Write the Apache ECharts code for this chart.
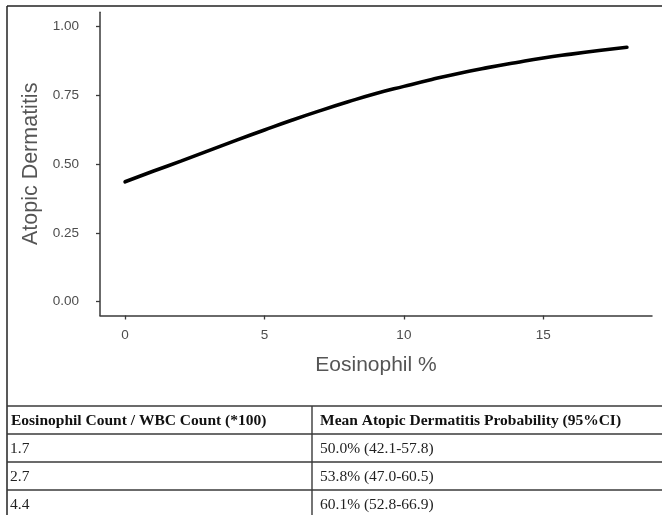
<!DOCTYPE html>
<html>
<head>
<meta charset="utf-8">
<script src="https://cdn.jsdelivr.net/npm/echarts@6/dist/echarts.min.js"></script>
<style>
  html, body { margin: 0; padding: 0; background: #fff; }
  #chart { width: 662px; height: 515px; }
</style>
</head>
<body>
<div id="chart"></div>
<script>
// ---- data ----
const eosinophilPct = [0, 1, 2, 3, 4, 5, 6, 7, 8, 9, 10, 11, 12, 13, 14, 15, 16, 17, 18];
const atopicProb = [0.435, 0.473, 0.510, 0.548, 0.586, 0.623, 0.659, 0.693, 0.725, 0.755,
                    0.781, 0.806, 0.829, 0.849, 0.867, 0.884, 0.898, 0.911, 0.923];
const xTicks = [0, 5, 10, 15];
const yTicks = [0, 0.25, 0.5, 0.75, 1];
const xTitle = 'Eosinophil %';
const yTitle = 'Atopic Dermatitis';
const tableHeader = ['Eosinophil Count / WBC Count (*100)', 'Mean Atopic Dermatitis Probability (95%CI)'];
const tableCol1 = ['1.7', '2.7', '4.4'];
const tableCol2 = ['50.0% (42.1-57.8)', '53.8% (47.0-60.5)', '60.1% (52.8-66.9)'];

// ---- layout ----
const W = 662, H = 515;
const lineColor = '#3a3a3a';
const tableTop = 406, rowH = 28, colX = 312, leftX = 7, topY = 6;
const serif = '"Liberation Serif", "Times New Roman", serif';
const sans = '"Liberation Sans", Arial, sans-serif';

const graphics = [];
// outer frame (left and top)
graphics.push({ type: 'line', shape: { x1: leftX, y1: topY, x2: leftX, y2: H }, style: { stroke: '#222', lineWidth: 1.5 } });
graphics.push({ type: 'line', shape: { x1: leftX, y1: topY, x2: W, y2: topY }, style: { stroke: '#222', lineWidth: 1.5 } });
// table horizontal rules
for (let i = 0; i <= tableCol1.length; i++) {
  const y = tableTop + i * rowH;
  graphics.push({ type: 'line', shape: { x1: leftX, y1: y, x2: W, y2: y }, style: { stroke: lineColor, lineWidth: 1.6 } });
}
// column divider
graphics.push({ type: 'line', shape: { x1: colX, y1: tableTop, x2: colX, y2: H }, style: { stroke: lineColor, lineWidth: 1.4 } });
// header
graphics.push({ type: 'text', style: { text: tableHeader[0], x: 11, y: tableTop + rowH / 2 + 1, verticalAlign: 'middle',
  font: 'bold 15.5px ' + serif, fill: '#111' } });
graphics.push({ type: 'text', style: { text: tableHeader[1], x: colX + 8, y: tableTop + rowH / 2 + 1, verticalAlign: 'middle',
  font: 'bold 15.5px ' + serif, fill: '#111' } });
// body rows
tableCol1.forEach((t, i) => {
  const y = tableTop + (i + 1) * rowH + rowH / 2 + 1;
  graphics.push({ type: 'text', style: { text: t, x: 10, y: y, verticalAlign: 'middle', font: '15.5px ' + serif, fill: '#222' } });
  graphics.push({ type: 'text', style: { text: tableCol2[i], x: colX + 8, y: y, verticalAlign: 'middle', font: '15.5px ' + serif, fill: '#222' } });
});

const chart = echarts.init(document.getElementById('chart'), null, { renderer: 'canvas' });
chart.setOption({
  backgroundColor: '#fff',
  animation: false,
  grid: { left: 100, right: 10, top: 12.2, bottom: H - 315.5, containLabel: false },
  xAxis: {
    type: 'value', min: -0.9, max: 18.9,
    name: xTitle, nameLocation: 'middle', nameGap: 39,
    nameTextStyle: { fontSize: 21, color: '#555', fontFamily: sans },
    axisLine: { show: true, onZero: false, lineStyle: { color: lineColor, width: 1.5 } },
    axisTick: { show: true, customValues: xTicks, length: 4, lineStyle: { color: lineColor, width: 1.3 } },
    axisLabel: { customValues: xTicks, color: '#4d4d4d', fontSize: 13.5, margin: 13, fontFamily: sans },
    splitLine: { show: false }
  },
  yAxis: {
    type: 'value', min: -0.05, max: 1.05,
    name: yTitle, nameLocation: 'middle', nameGap: 56, nameRotate: 90,
    nameTextStyle: { fontSize: 21.5, color: '#555', fontFamily: sans },
    axisLine: { show: true, onZero: false, lineStyle: { color: lineColor, width: 1.5 } },
    axisTick: { show: true, customValues: yTicks, length: 4, lineStyle: { color: lineColor, width: 1.3 } },
    axisLabel: { customValues: yTicks, color: '#4d4d4d', fontSize: 13.5, margin: 21, fontFamily: sans,
      formatter: v => v.toFixed(2) },
    splitLine: { show: false }
  },
  series: [{
    type: 'line',
    data: eosinophilPct.map((x, i) => [x, atopicProb[i]]),
    smooth: true,
    showSymbol: false,
    lineStyle: { color: '#000', width: 3.6, cap: 'round' }
  }],
  graphic: graphics
});
</script>
</body>
</html>
